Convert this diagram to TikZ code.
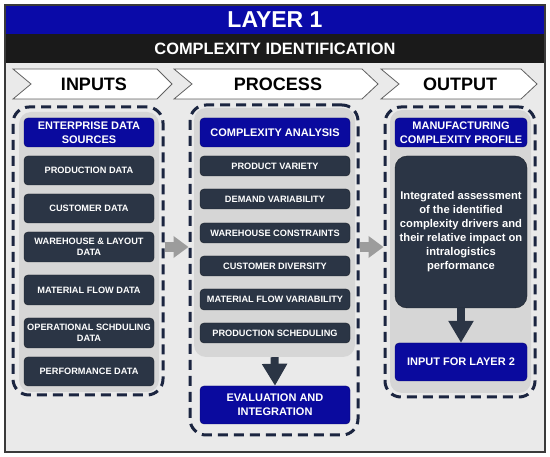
\documentclass[tikz,border=0pt]{standalone}
\usepackage{fontspec}
\setmainfont{Liberation Sans}
\usetikzlibrary{arrows.meta}
\definecolor{bandblue}{HTML}{0A0AA8}
\definecolor{boxblue}{HTML}{0A0A9E}
\definecolor{darkfill}{HTML}{2B3545}
\definecolor{navy}{HTML}{1B2540}
\definecolor{bodybg}{HTML}{EAEAEA}
\definecolor{panelbg}{HTML}{D6D6D6}
\definecolor{arrowgray}{HTML}{9C9C9C}
\definecolor{framegray}{HTML}{3A3A3A}
\definecolor{bandblack}{HTML}{1A1A1A}
\tikzset{
 bluebox/.style={fill=boxblue, draw=boxblue!70!black, rounded corners=4pt, text=white, font=\bfseries\fontsize{11}{14}\selectfont, align=center, inner sep=0pt},
 darkbox/.style={fill=darkfill, draw=darkfill!60!black, rounded corners=4pt, text=white, font=\bfseries\fontsize{9.2}{11}\selectfont, align=center, inner sep=0pt},
 panel/.style={fill=panelbg, rounded corners=12pt, draw=none, inner sep=0pt},
 dashbox/.style={draw=navy, line width=3pt, dash pattern=on 10pt off 6pt, rounded corners=16pt, inner sep=0pt},
 chevron/.style={fill=white, draw=framegray!80, line width=0.8pt},
 chevlabel/.style={font=\bfseries\fontsize{18}{20}\selectfont, inner sep=0pt},
 grayarrow/.style={draw=arrowgray, line width=10pt, -{Triangle[width=21pt,length=15pt]}},
 downarrow/.style={draw=darkfill, line width=8pt, -{Triangle[width=24pt,length=22pt]}},
}
\begin{document}
\begin{tikzpicture}[x=1pt,y=-1pt]
\useasboundingbox (0,0) rectangle (550,457);
\fill[white] (0,0) rectangle (550,457);
\fill[bodybg] (5,5) rectangle (545,452);
% header
\fill[bandblue] (5,5) rectangle (545,34);
\fill[bandblack] (5,34) rectangle (545,63);
\node[text=white, font=\bfseries\fontsize{23}{25}\selectfont, inner sep=0pt] (layer) at (275,20) {LAYER 1};
\node[text=white, font=\bfseries\fontsize{16.4}{18}\selectfont, inner sep=0pt] (ident) at (275,49) {COMPLEXITY IDENTIFICATION};
\draw[framegray, line width=1.2pt] (5,5) rectangle (545,452);
% chevrons
\draw[chevron] (13,69) -- (157,69) -- (172,84) -- (157,99) -- (13,99) -- (31,84) -- cycle;
\draw[chevron] (174,69) -- (362,69) -- (378,84) -- (362,99) -- (174,99) -- (192,84) -- cycle;
\draw[chevron] (381,69) -- (521,69) -- (537,84) -- (521,99) -- (381,99) -- (399,84) -- cycle;
\node[chevlabel] (tin) at (94,84) {INPUTS};
\node[chevlabel] (tpr) at (278,84) {PROCESS};
\node[chevlabel] (tout) at (460,84) {OUTPUT};
% panels
\node[panel, minimum width=140pt, minimum height=280pt] (pl) at (89,252) {};
\node[panel, minimum width=161pt, minimum height=249pt] (pm) at (274.5,232.5) {};
\node[panel, minimum width=141pt, minimum height=283pt] (pr) at (460.5,251.5) {};
% dashed containers
\node[dashbox, minimum width=150pt, minimum height=288pt] (dl) at (88,251) {};
\node[dashbox, minimum width=168pt, minimum height=330pt] (dm) at (274,270) {};
\node[dashbox, minimum width=150pt, minimum height=290pt] (dr) at (460,252) {};
% left column
\node[bluebox, minimum width=130pt, minimum height=29pt] (esrc) at (89,132.5) {ENTERPRISE DATA\\SOURCES};
\node[darkbox, minimum width=130pt, minimum height=29pt] (pd) at (89,170.5) {PRODUCTION DATA};
\node[darkbox, minimum width=130pt, minimum height=29pt] (cd) at (89,208.5) {CUSTOMER DATA};
\node[darkbox, minimum width=130pt, minimum height=30pt] (wl) at (89,247) {WAREHOUSE \& LAYOUT\\DATA};
\node[darkbox, minimum width=130pt, minimum height=30pt] (mf) at (89,290) {MATERIAL FLOW DATA};
\node[darkbox, minimum width=130pt, minimum height=30pt] (os) at (89,333) {OPERATIONAL SCHDULING\\DATA};
\node[darkbox, minimum width=130pt, minimum height=29pt] (pf) at (89,371.5) {PERFORMANCE DATA};
% middle column
\node[bluebox, minimum width=150pt, minimum height=29pt] (ca) at (275,132.5) {COMPLEXITY ANALYSIS};
\node[darkbox, minimum width=150pt, minimum height=20pt] (pv) at (275,166) {PRODUCT VARIETY};
\node[darkbox, minimum width=150pt, minimum height=20pt] (dv) at (275,199) {DEMAND VARIABILITY};
\node[darkbox, minimum width=150pt, minimum height=20pt] (wc) at (275,233) {WAREHOUSE CONSTRAINTS};
\node[darkbox, minimum width=150pt, minimum height=20pt] (cdv) at (275,266) {CUSTOMER DIVERSITY};
\node[darkbox, minimum width=150pt, minimum height=21pt] (mfv) at (275,299.5) {MATERIAL FLOW VARIABILITY};
\node[darkbox, minimum width=150pt, minimum height=20pt] (ps) at (275,333) {PRODUCTION SCHEDULING};
\node[bluebox, minimum width=150pt, minimum height=38pt] (ev) at (275,405) {EVALUATION AND\\INTEGRATION};
% right column
\node[bluebox, minimum width=132pt, minimum height=29pt] (mcp) at (461,132.5) {MANUFACTURING\\COMPLEXITY PROFILE};
\node[darkbox, rounded corners=12pt, minimum width=132pt, minimum height=152pt, font=\bfseries\fontsize{11.2}{14}\selectfont] (desc) at (461,232) {Integrated assessment\\of the identified\\complexity drivers and\\their relative impact on\\intralogistics\\performance};
\node[bluebox, minimum width=132pt, minimum height=38pt] (il2) at (461,362) {INPUT FOR LAYER 2};
% arrows
\draw[grayarrow] (dl.east |- wl) -- (dm.west |- wl);
\draw[grayarrow] (dm.east |- wl) -- (dr.west |- wl);
\draw[downarrow] (pm.south) -- (ev.north);
\draw[downarrow] (desc.south) -- (il2.north);
\end{tikzpicture}
\end{document}
